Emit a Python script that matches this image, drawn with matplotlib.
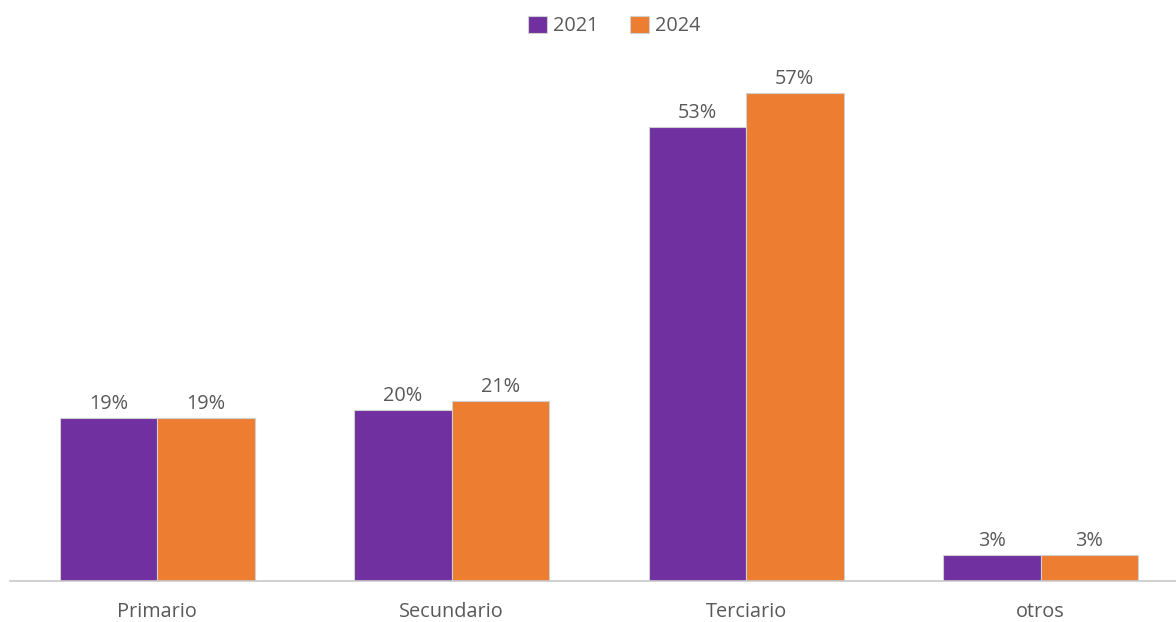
import numpy as np
import matplotlib.pyplot as plt

plt.rcParams["font.family"] = ["Open Sans", "DejaVu Sans"]

categorias = ["Primario", "Secundario", "Terciario", "otros"]
valores_2021 = [19, 20, 53, 3]
valores_2024 = [19, 21, 57, 3]
series = ["2021", "2024"]

morado = "#7030A0"
naranja = "#ED7D31"
gris_texto = "#595959"

fig = plt.figure(figsize=(11.76, 6.22), dpi=100)
ax = fig.add_axes([10 / 1176, 41 / 622, 1166 / 1176, 513.6 / 622])

x = np.arange(len(categorias))
ancho = 0.331
b1 = ax.bar(x - ancho / 2, valores_2021, ancho, color=morado, edgecolor="#d0d0d0",
            linewidth=0.8, label=series[0])
b2 = ax.bar(x + ancho / 2, valores_2024, ancho, color=naranja, edgecolor="#d0d0d0",
            linewidth=0.8, label=series[1])

for barras in (b1, b2):
    for r in barras:
        ax.annotate(f"{r.get_height():.0f}%", (r.get_x() + r.get_width() / 2, r.get_height()),
                    textcoords="offset points", xytext=(0, 3), ha="center", va="bottom",
                    fontsize=14.3, color=gris_texto)

ax.set_xlim(-0.5, 3.46)
ax.set_ylim(0, 60)
ax.set_xticks(x)
ax.set_xticklabels(categorias, fontsize=14.3, color=gris_texto)
ax.tick_params(axis="x", length=0, pad=15)
ax.set_yticks([])
for s in ["top", "right", "left"]:
    ax.spines[s].set_visible(False)
ax.spines["bottom"].set_color("#c8c8c8")
ax.spines["bottom"].set_linewidth(1.2)

leg = fig.legend(loc="upper center", bbox_to_anchor=(0.522, 1.003), ncol=2, frameon=False,
                 fontsize=14.3, handlelength=0.95, handleheight=0.95, handletextpad=0.3,
                 columnspacing=1.6)
for t in leg.get_texts():
    t.set_color(gris_texto)

fig.savefig("out.png", dpi=100)
